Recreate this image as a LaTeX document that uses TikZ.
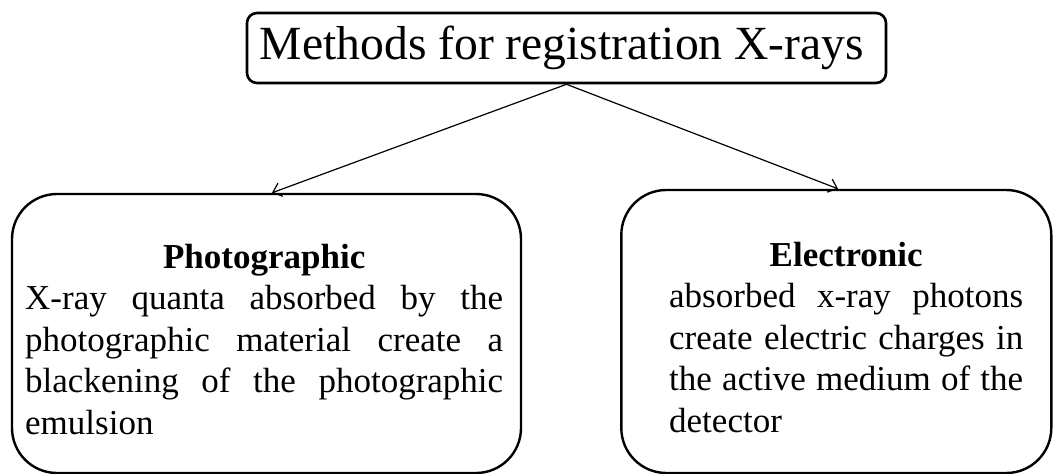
\documentclass[tikz,border=0pt]{standalone}
\usepackage{fontspec}
\setmainfont{Liberation Serif}
\usetikzlibrary{arrows.meta}

\tikzset{
  titlebox/.style={draw, line width=2.6pt, rounded corners=10pt, inner sep=0pt,
    minimum width=639pt, minimum height=70pt,
    font=\fontsize{47.6pt}{56pt}\selectfont},
  groupbox/.style={draw, line width=2.4pt, rounded corners=45pt, inner sep=0pt},
  bodytext/.style={anchor=base west, inner sep=0pt,
    font=\fontsize{35pt}{41.5pt}\selectfont},
  conn/.style={draw, line width=1.2pt, -{Straight Barb[length=8pt,width=14pt,line width=1.2pt]}}
}

\newcommand{\bodypar}[3]{%
  \parbox[t]{#1}{\hyphenpenalty=10000 \exhyphenpenalty=10000
    \fontsize{35pt}{41.5pt}\selectfont
    {\centering\textbf{#2}\par}#3}}

\begin{document}
\begin{tikzpicture}[x=1pt,y=-1pt]
  \useasboundingbox (0,0) rectangle (1053,474);

  % title
  \node[titlebox] (title) at (566.5,48) {Methods for registration X-rays\hspace*{9pt}};

  % the two groups
  \node[groupbox, minimum width=509pt, minimum height=279pt] (photo) at (266.5,333.5) {};
  \node[groupbox, minimum width=430pt, minimum height=283pt] (elec) at (836.3,331.5) {};

  \node[bodytext] (phototext) at (25,268) {\bodypar{478pt}{Photographic}{%
    X-ray quanta absorbed by the\linebreak
    photographic material create a\linebreak
    blackening of the photographic\linebreak
    emulsion}};

  \node[bodytext] (electext) at (669,266) {\bodypar{354pt}{Electronic}{%
    absorbed x-ray photons\linebreak
    create electric charges in\linebreak
    the active medium of the\linebreak
    detector}};

  % connectors
  \draw[conn] (title.south) -- ([xshift=5.5pt]photo.north);
  \draw[conn] (title.south) -- ([xshift=1.7pt]elec.north);
\end{tikzpicture}
\end{document}
